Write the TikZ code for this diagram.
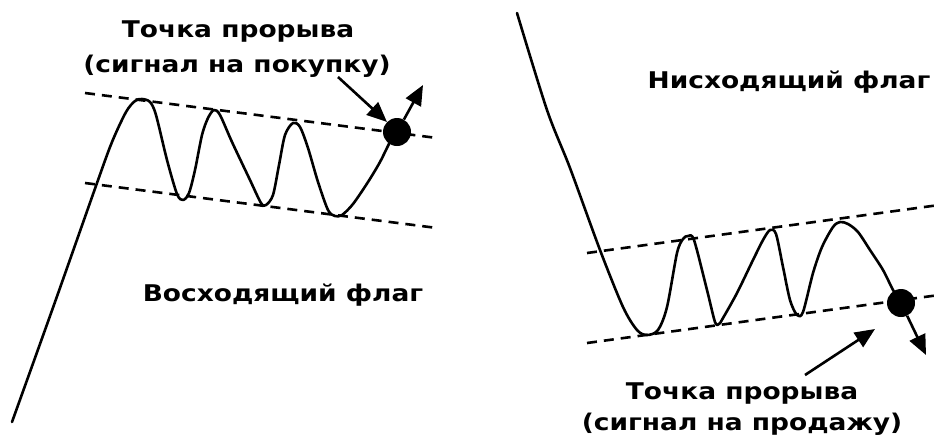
\documentclass[tikz,border=0pt]{standalone}
\usepackage{fontspec}
\setmainfont{DejaVu Sans}[FakeStretch=1.15]
\usetikzlibrary{arrows.meta, positioning}
\tikzset{
  trend/.style={line width=2.6pt, line join=round, line cap=round},
  channel/.style={line width=2.6pt, dash pattern=on 10pt off 7pt},
  breakdot/.style={circle, fill=black, inner sep=0pt, minimum size=28pt},
  pointer/.style={line width=2.6pt, -{Triangle[length=20pt,width=17pt]}},
  titletext/.style={font=\bfseries\fontsize{23}{27}\selectfont, inner sep=0pt},
}

\begin{document}
\begin{tikzpicture}[x=1pt, y=-1pt]
  \useasboundingbox (0,0) rectangle (939,440);

  % Bull flag
  \draw[channel] (85,93) -- (437,138);
  \draw[channel] (85,183) -- (437,228);
  \draw[trend] plot[smooth, tension=0.5] coordinates {
    (12,422) (55,302) (97,183) (112,142) (126,112) (135,101) (142,99) (150,102) (156,115)
    (167,160) (177,194) (183,200) (189,193) (195,170) (202,135) (208,118) (214,110)
    (220,115) (232,142) (250,180) (261,203) (266,205) (273,195) (279,165) (285,135)
    (293,123) (300,127) (308,148) (318,182) (328,210) (335,216) (342,215) (353,204)
    (368,182) (380,162) (390,142) (397,132)};
  \node[breakdot] (buydot) at (397,132) {};
  \coordinate (buyup) at (423,85);
  \draw[pointer] (buydot) -- (buyup);

  \node[titletext] (buytitle) at (238,32) {Точка прорыва};
  \node[titletext] (buysignal) at (237,66) {(сигнал на покупку)};
  \coordinate (buytail) at (338,77);
  \draw[pointer] (buytail) -- (buydot.north west);
  \node[titletext] (bullname) at (283,295) {Восходящий флаг};

  % Bear flag
  \draw[channel] (587,253) -- (939,205);
  \draw[channel] (587,343) -- (939,295);
  \draw[trend] plot[smooth, tension=0.5] coordinates {
    (517,13) (547,110) (570,168) (600,250) (623,307) (637,330) (647,335) (658,330)
    (667,307) (677,253) (683,239) (688,236) (694,240) (707,290) (715,322) (719,324)
    (723,318) (737,293) (753,260) (763,240) (770,230) (776,234) (783,267) (790,300)
    (797,315) (803,312) (813,273) (822,247) (833,227) (840,222) (848,224) (858,232)
    (870,250) (883,270) (893,290) (901,303)};
  \node[breakdot] (selldot) at (901,303) {};
  \coordinate (selldown) at (926,355);
  \draw[pointer] (selldot) -- (selldown);

  \node[titletext] (bearname) at (789,82) {Нисходящий флаг};
  \node[titletext] (selltitle) at (742,393) {Точка прорыва};
  \node[titletext] (sellsignal) at (742,424) {(сигнал на продажу)};
  \coordinate (selltail) at (805,375);
  \draw[pointer] (selltail) -- (875,329);
\end{tikzpicture}
\end{document}
